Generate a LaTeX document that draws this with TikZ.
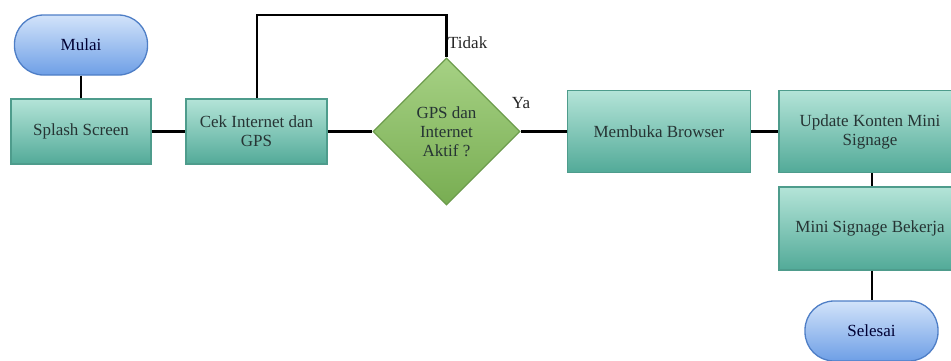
\documentclass[tikz,border=0pt]{standalone}
\usepackage{fontspec}
\setmainfont{Liberation Serif}
\newfontfamily\diagfont{Liberation Serif}
\usetikzlibrary{shapes.geometric,shadings}
\definecolor{boxtop}{HTML}{B4E4D8}
\definecolor{boxbot}{HTML}{52AA98}
\definecolor{boxline}{HTML}{4E9C8C}
\definecolor{dtop}{HTML}{A6D184}
\definecolor{dbot}{HTML}{78AD52}
\definecolor{dline}{HTML}{6C9C4C}
\definecolor{etop}{HTML}{D2E3FA}
\definecolor{ebot}{HTML}{6E9FE6}
\definecolor{eline}{HTML}{4E7EC6}
\definecolor{txt}{HTML}{263434}
\tikzset{
  every node/.style={font=\diagfont\fontsize{17}{19}\selectfont, text=txt},
  procbox/.style={rectangle, draw=boxline, line width=1.3pt, top color=boxtop, bottom color=boxbot, align=center, inner sep=2pt},
  termbox/.style={rectangle, rounded corners=29pt, draw=eline, line width=1.3pt, top color=etop, bottom color=ebot, minimum width=133pt, minimum height=60pt, inner sep=0pt, text=black!80!blue},
  decbox/.style={diamond, aspect=1, draw=dline, line width=1.3pt, top color=dtop, bottom color=dbot, minimum width=147pt, minimum height=147pt, inner sep=0pt, align=center},
  conn/.style={line width=2.4pt, black},
  lbl/.style={inner sep=0pt, text=black!85}
}
\begin{document}
\begin{tikzpicture}[x=1pt,y=-1pt]
\path[use as bounding box] (0,0) rectangle (951,360);
\clip (0,0) rectangle (951,360);
\coordinate (c1) at (257,15);
\coordinate (c2) at (446.5,15);
\coordinate (vx) at (872,0);
\node[termbox] (mulai) at (81,45) {Mulai};
\node[procbox, minimum width=140pt, minimum height=65pt] (splash) at (81,131.5) {Splash Screen};
\node[procbox, minimum width=141pt, minimum height=65pt] (cek) at (256.5,131.5) {Cek Internet dan\\GPS};
\node[decbox] (gps) at (446.5,131.5) {GPS dan\\Internet\\Aktif ?};
\node[procbox, minimum width=183pt, minimum height=82pt] (buka) at (659,131.5) {Membuka Browser};
\node[procbox, minimum width=182pt, minimum height=82pt] (update) at (870,131.5) {Update Konten Mini\\Signage};
\node[procbox, minimum width=182pt, minimum height=83pt] (kerja) at (870,228.5) {Mini Signage Bekerja};
\node[termbox] (selesai) at (871.5,331) {Selesai};
\node[lbl, anchor=west] (tidak) at (448,43) {Tidak};
\node[lbl] (ya) at (521,103) {Ya};
\draw[conn] (mulai.south) -- (splash.north);
\draw[conn] (splash.east) -- (cek.west);
\draw[conn] (cek.east) -- (gps.west);
\draw[conn] (cek.north -| c1) -- (c1) -- (c2) -- (gps.north);
\draw[conn] (gps.east) -- (buka.west);
\draw[conn] (buka.east) -- (update.west);
\draw[conn] (update.south -| vx) -- (kerja.north -| vx);
\draw[conn] (kerja.south -| vx) -- (selesai.north -| vx);
\end{tikzpicture}
\end{document}
